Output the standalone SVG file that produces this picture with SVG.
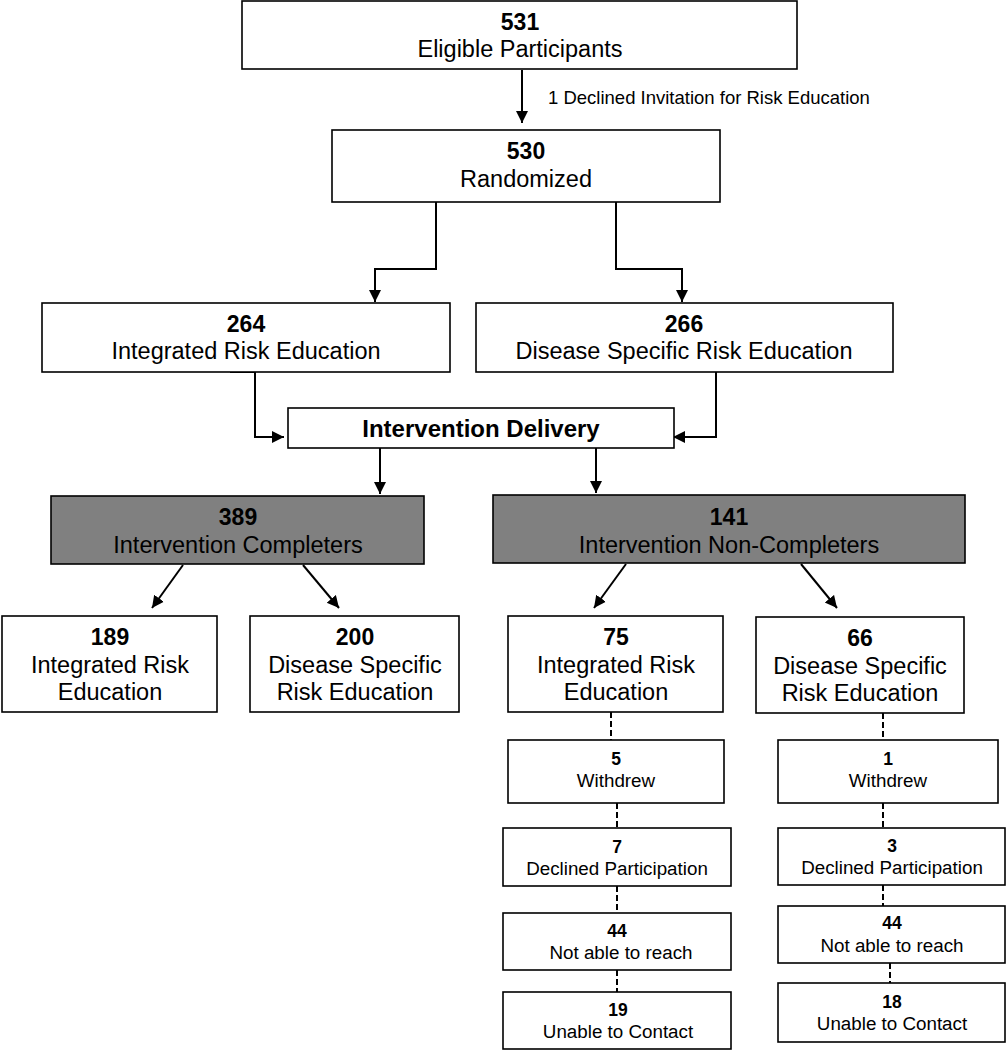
<svg xmlns="http://www.w3.org/2000/svg" width="1006" height="1050" viewBox="0 0 1006 1050">
<defs>
<marker id="arr" markerUnits="userSpaceOnUse" markerWidth="14" markerHeight="14" refX="12" refY="6.5" orient="auto">
<path d="M0,0.5 L12,6.5 L0,12.5 z" fill="#000"/>
</marker>
<style>
.box{fill:#fff;stroke:#000;stroke-width:1.6}
.grey{fill:#808080;stroke:#000;stroke-width:1.6}
.num{font-family:"Liberation Sans",Arial,sans-serif;font-weight:bold;font-size:23px;text-anchor:middle;fill:#000}
.lbl{font-family:"Liberation Sans",Arial,sans-serif;font-size:23.5px;text-anchor:middle;fill:#000}
.snum{font-family:"Liberation Sans",Arial,sans-serif;font-weight:bold;font-size:17.5px;text-anchor:middle;fill:#000}
.slbl{font-family:"Liberation Sans",Arial,sans-serif;font-size:18.8px;text-anchor:middle;fill:#000}
.note{font-family:"Liberation Sans",Arial,sans-serif;font-size:18.5px;fill:#000}
.c{fill:none;stroke:#000;stroke-width:2}
.d{fill:none;stroke:#000;stroke-width:2;stroke-dasharray:6,3}
</style>
</defs>

<g id="connectors">
<line class="c" x1="522" y1="70" x2="522" y2="123" marker-end="url(#arr)"/>
<path class="c" d="M436,202 V269 H375 V302" marker-end="url(#arr)"/>
<path class="c" d="M616,202 V269 H682 V302" marker-end="url(#arr)"/>
<path class="c" d="M230,372 H255 V437 H284" marker-end="url(#arr)"/>
<path class="c" d="M716,372 V437 H673" marker-end="url(#arr)"/>
<line class="c" x1="380" y1="448" x2="380" y2="494" marker-end="url(#arr)"/>
<line class="c" x1="596" y1="448" x2="596" y2="493" marker-end="url(#arr)"/>
<line class="c" x1="183" y1="565" x2="152" y2="608" marker-end="url(#arr)"/>
<line class="c" x1="303" y1="565" x2="339" y2="608" marker-end="url(#arr)"/>
<line class="c" x1="626" y1="564" x2="594" y2="608" marker-end="url(#arr)"/>
<line class="c" x1="801" y1="564" x2="837" y2="608" marker-end="url(#arr)"/>
<line class="d" x1="611" y1="712" x2="611" y2="740"/>
<line class="d" x1="617" y1="803" x2="617" y2="828"/>
<line class="d" x1="617" y1="886" x2="617" y2="913"/>
<line class="d" x1="617" y1="970" x2="617" y2="992"/>
<line class="d" x1="883" y1="713" x2="883" y2="740"/>
<line class="d" x1="883" y1="803" x2="883" y2="828"/>
<line class="d" x1="883" y1="885" x2="883" y2="906"/>
<line class="d" x1="890" y1="963" x2="890" y2="983"/>
<text class="note" x="548" y="104">1 Declined Invitation for Risk Education</text>
</g>

<g id="n531">
<rect class="box" x="242" y="1" width="555" height="68"/>
<text class="num" x="520" y="30">531</text>
<text class="lbl" x="520" y="57">Eligible Participants</text>
</g>

<g id="n530">
<rect class="box" x="332" y="130" width="388" height="72"/>
<text class="num" x="526" y="159">530</text>
<text class="lbl" x="526" y="187">Randomized</text>
</g>

<g id="n264">
<rect class="box" x="42" y="303" width="408" height="69"/>
<text class="num" x="246" y="332">264</text>
<text class="lbl" x="246" y="359">Integrated Risk Education</text>
</g>

<g id="n266">
<rect class="box" x="476" y="303" width="417" height="69"/>
<text class="num" x="684" y="332">266</text>
<text class="lbl" x="684" y="359">Disease Specific Risk Education</text>
</g>

<g id="delivery">
<rect class="box" x="288" y="408" width="386" height="40"/>
<text class="num" x="481" y="437" style="font-size:24px">Intervention Delivery</text>
</g>

<g id="n389">
<rect class="grey" x="51" y="496" width="373" height="68"/>
<text class="num" x="238" y="525">389</text>
<text class="lbl" x="238" y="553">Intervention Completers</text>
</g>

<g id="n141">
<rect class="grey" x="493" y="495" width="472" height="68"/>
<text class="num" x="729" y="525">141</text>
<text class="lbl" x="729" y="553">Intervention Non-Completers</text>
</g>

<g id="n189">
<rect class="box" x="2" y="616" width="215" height="96"/>
<text class="num" x="110" y="645">189</text>
<text class="lbl" x="110" y="673">Integrated Risk</text>
<text class="lbl" x="110" y="700">Education</text>
</g>

<g id="n200">
<rect class="box" x="250" y="616" width="209" height="96"/>
<text class="num" x="355" y="645">200</text>
<text class="lbl" x="355" y="673">Disease Specific</text>
<text class="lbl" x="355" y="700">Risk Education</text>
</g>

<g id="n75">
<rect class="box" x="508" y="616" width="215" height="96"/>
<text class="num" x="616" y="645">75</text>
<text class="lbl" x="616" y="673">Integrated Risk</text>
<text class="lbl" x="616" y="700">Education</text>
</g>

<g id="n66">
<rect class="box" x="756" y="617" width="208" height="96"/>
<text class="num" x="860" y="646">66</text>
<text class="lbl" x="860" y="674">Disease Specific</text>
<text class="lbl" x="860" y="701">Risk Education</text>
</g>

<g id="n5">
<rect class="box" x="508" y="740" width="216" height="63"/>
<text class="snum" x="616" y="765">5</text>
<text class="slbl" x="616" y="787">Withdrew</text>
</g>

<g id="n7">
<rect class="box" x="503" y="828" width="228" height="58"/>
<text class="snum" x="617" y="853">7</text>
<text class="slbl" x="617" y="875">Declined Participation</text>
</g>

<g id="n44a">
<rect class="box" x="503" y="913" width="228" height="57"/>
<text class="snum" x="617" y="937">44</text>
<text class="slbl" x="621" y="959">Not able to reach</text>
</g>

<g id="n19">
<rect class="box" x="503" y="992" width="228" height="57"/>
<text class="snum" x="618" y="1016">19</text>
<text class="slbl" x="618" y="1038">Unable to Contact</text>
</g>

<g id="n1">
<rect class="box" x="778" y="740" width="220" height="63"/>
<text class="snum" x="888" y="765">1</text>
<text class="slbl" x="888" y="787">Withdrew</text>
</g>

<g id="n3">
<rect class="box" x="778" y="828" width="227" height="57"/>
<text class="snum" x="892" y="852">3</text>
<text class="slbl" x="892" y="874">Declined Participation</text>
</g>

<g id="n44b">
<rect class="box" x="778" y="906" width="227" height="57"/>
<text class="snum" x="892" y="929">44</text>
<text class="slbl" x="892" y="952">Not able to reach</text>
</g>

<g id="n18">
<rect class="box" x="778" y="983" width="227" height="59"/>
<text class="snum" x="892" y="1008">18</text>
<text class="slbl" x="892" y="1030">Unable to Contact</text>
</g>
</svg>
